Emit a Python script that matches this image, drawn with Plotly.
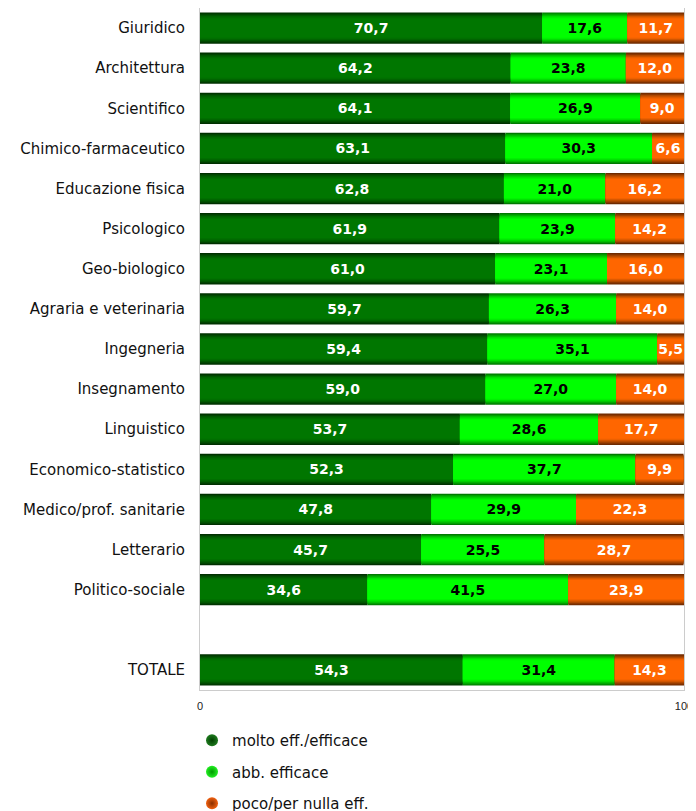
import plotly.graph_objs as go

# Categories (top to bottom), blank row before the total
categories = ['Giuridico', 'Architettura', 'Scientifico', 'Chimico-farmaceutico',
              'Educazione fisica', 'Psicologico', 'Geo-biologico',
              'Agraria e veterinaria', 'Ingegneria', 'Insegnamento', 'Linguistico',
              'Economico-statistico', 'Medico/prof. sanitarie', 'Letterario',
              'Politico-sociale', ' ', 'TOTALE']

molto = [70.7, 64.2, 64.1, 63.1, 62.8, 61.9, 61.0, 59.7, 59.4, 59.0, 53.7,
         52.3, 47.8, 45.7, 34.6, None, 54.3]
abbastanza = [17.6, 23.8, 26.9, 30.3, 21.0, 23.9, 23.1, 26.3, 35.1, 27.0, 28.6,
              37.7, 29.9, 25.5, 41.5, None, 31.4]
poco = [11.7, 12.0, 9.0, 6.6, 16.2, 14.2, 16.0, 14.0, 5.5, 14.0, 17.7,
        9.9, 22.3, 28.7, 23.9, None, 14.3]

series_names = ['molto eff./efficace', 'abb. efficace', 'poco/per nulla eff.']

# gradient steps: edge -> centre
shades = {
    'molto eff./efficace': ['#003000', '#004400', '#005600', '#006400', '#006e00', '#007600'],
    'abb. efficace': ['#007a00', '#00a000', '#00c000', '#00dc00', '#00f000', '#00ff00'],
    'poco/per nulla eff.': ['#6e2a00', '#8e3800', '#b04800', '#d05500', '#ec6000', '#ff6600'],
}
text_col = {'molto eff./efficace': 'white', 'abb. efficace': 'black',
            'poco/per nulla eff.': 'white'}
widths = [0.78, 0.72, 0.66, 0.60, 0.54, 0.48]


def fmt(v):
    return '' if v is None else '{:.1f}'.format(v).replace('.', ',')


fig = go.Figure()

base = [0 if v is not None else None for v in molto]
for name, vals in zip(series_names, [molto, abbastanza, poco]):
    for k, (w, c) in enumerate(zip(widths, shades[name])):
        last = k == len(widths) - 1
        fig.add_trace(go.Bar(
            y=categories, x=vals, base=base, orientation='h',
            width=w, marker=dict(color=c, line=dict(width=0)),
            text=[fmt(v) for v in vals] if last else None,
            textposition='inside' if last else 'none',
            insidetextanchor='middle',
            textfont=dict(family='DejaVu Sans', size=14, color=text_col[name],
                          weight='bold'),
            showlegend=False, hoverinfo='skip'))
    base = [b + v if v is not None else None for b, v in zip(base, vals)]

# legend entries with round markers
legend_cols = {'molto eff./efficace': ('#1f7a1f', '#004000'),
               'abb. efficace': ('#22ee22', '#009900'),
               'poco/per nulla eff.': ('#f06010', '#8a3000')}
for i, name in enumerate(series_names):
    c1, c2 = legend_cols[name]
    fig.add_trace(go.Scatter(
        x=[None], y=[None], mode='markers', name=name, legendgroup=str(i),
        marker=dict(symbol='circle', size=12, color=c1,
                    gradient=dict(type='radial', color=c2))))

# page body has an 8px margin, so the figure is sized to end at the window edge
fig.update_layout(
    width=688, height=803,
    barmode='overlay',
    plot_bgcolor='white', paper_bgcolor='white',
    margin=dict(l=192, r=12, t=0, b=121, autoexpand=False),
    uniformtext=dict(minsize=13, mode='show'),
    font=dict(family='DejaVu Sans', size=15, color='#111111'),
    legend=dict(x=-0.0165, y=-0.05, xanchor='left', yanchor='top',
                orientation='v', tracegroupgap=9,
                font=dict(family='DejaVu Sans', size=15, color='#111111')),
)
fig.update_xaxes(range=[0, 100], tickvals=[0, 100], showgrid=False, zeroline=False,
                 showline=True, mirror=True, linecolor='#cccccc', linewidth=1,
                 automargin=False,
                 tickfont=dict(family='Liberation Sans', size=11, color='#222222'),
                 ticks='outside', ticklen=6, tickcolor='rgba(0,0,0,0)')
fig.update_yaxes(categoryorder='array', categoryarray=categories, autorange='reversed',
                 showgrid=False, zeroline=False, showline=True, mirror=True,
                 linecolor='#cccccc', linewidth=1, automargin=False,
                 ticks='outside', ticklen=11, tickcolor='rgba(0,0,0,0)',
                 tickfont=dict(family='DejaVu Sans', size=15, color='#111111'))

fig.write_html("out.html")
